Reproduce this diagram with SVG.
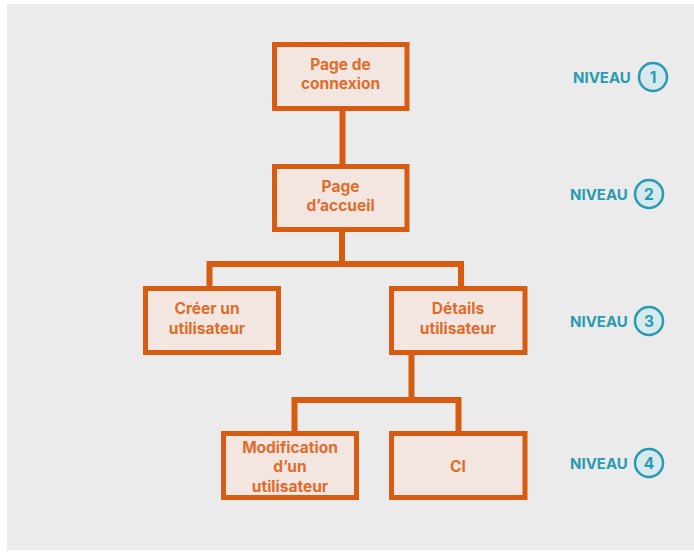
<svg xmlns="http://www.w3.org/2000/svg" width="694" height="553" viewBox="0 0 694 553">
<style>
.box{fill:#f3e6e0;stroke:#d75b10;stroke-width:5}
.lbl{font-family:Inter,"Noto Sans","Liberation Sans",sans-serif;font-weight:700;font-size:15.5px;fill:#e06c2c;text-anchor:middle}
.conn{fill:none;stroke:#d75b10;stroke-width:6;stroke-linejoin:miter}
.niv{font-family:Inter,"Noto Sans","Liberation Sans",sans-serif;font-weight:700;font-size:15px;fill:#2a9ab0}
.circ{fill:#d6e9ef;stroke:#2a9ab0;stroke-width:2.5}
.num{font-family:Inter,"Noto Sans","Liberation Sans",sans-serif;font-weight:700;font-size:15.5px;fill:#2a9ab0;text-anchor:middle}
</style>
<rect x="7" y="4" width="687" height="546" fill="#ebebeb"/>
<g id="connectors">
<path class="conn" d="M342.5 111 V164"/>
<path class="conn" d="M342 232 V264 M209.5 286 V264 H461 V286"/>
<path class="conn" d="M411.5 355 V400 M294.5 431 V400 H458.5 V431"/>
</g>
<g id="n1"><rect class="box" x="274.5" y="44.5" width="132.5" height="64"/>
<text class="lbl" x="340.5" y="69.5">Page de</text><text class="lbl" x="340.5" y="89">connexion</text></g>
<g id="n2"><rect class="box" x="274.5" y="166.5" width="132.5" height="63"/>
<text class="lbl" x="340.5" y="191.5">Page</text><text class="lbl" x="340.5" y="211">d’accueil</text></g>
<g id="n3"><rect class="box" x="145.5" y="288.5" width="133" height="64"/>
<text class="lbl" x="207" y="313.5">Créer un</text><text class="lbl" x="207" y="333.5">utilisateur</text></g>
<g id="n4"><rect class="box" x="391.5" y="288.5" width="133.5" height="64"/>
<text class="lbl" x="458" y="313.5">Détails</text><text class="lbl" x="458" y="333.5">utilisateur</text></g>
<g id="n5"><rect class="box" x="223.5" y="433.5" width="133" height="64"/>
<text class="lbl" x="290" y="452.5">Modification</text><text class="lbl" x="290" y="472">d’un</text><text class="lbl" x="290" y="491.5">utilisateur</text></g>
<g id="n6"><rect class="box" x="391.5" y="433.5" width="133.5" height="64"/>
<text class="lbl" x="458" y="471.5">CI</text></g>
<g id="niveau1"><text class="niv" x="573" y="83">NIVEAU</text><circle class="circ" cx="653" cy="77" r="14"/><text class="num" x="653" y="82.5">1</text></g>
<g id="niveau2"><text class="niv" x="570" y="200">NIVEAU</text><circle class="circ" cx="649" cy="194" r="14"/><text class="num" x="649" y="199.5">2</text></g>
<g id="niveau3"><text class="niv" x="570" y="327">NIVEAU</text><circle class="circ" cx="649" cy="321" r="14"/><text class="num" x="649" y="326.5">3</text></g>
<g id="niveau4"><text class="niv" x="570" y="469">NIVEAU</text><circle class="circ" cx="649" cy="463" r="14"/><text class="num" x="649" y="468.5">4</text></g>
</svg>
